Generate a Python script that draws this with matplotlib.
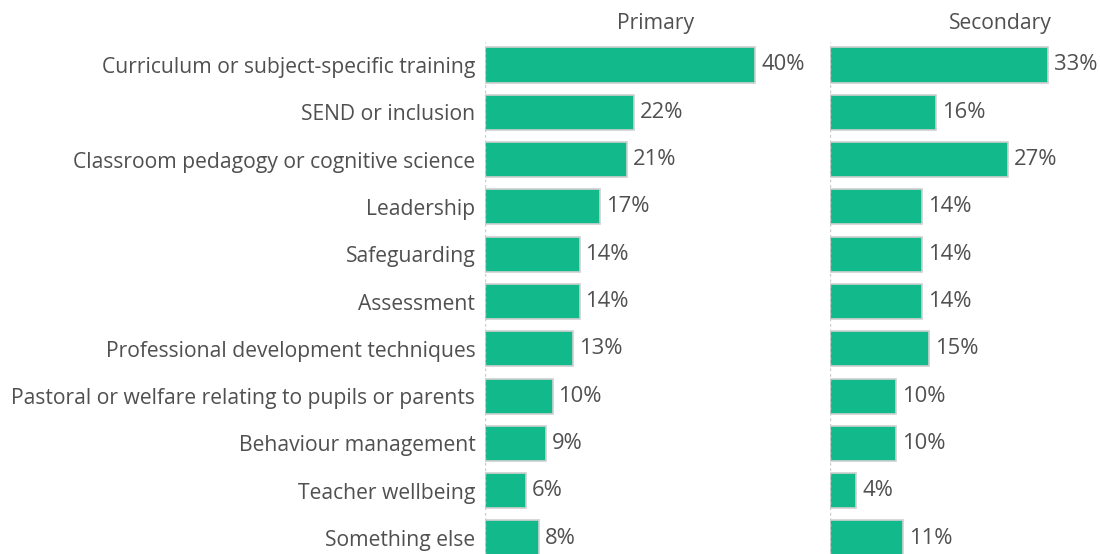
import numpy as np
import matplotlib.pyplot as plt

plt.rcParams['font.family'] = ['Open Sans', 'DejaVu Sans']

categories = ['Curriculum or subject-specific training', 'SEND or inclusion',
              'Classroom pedagogy or cognitive science', 'Leadership', 'Safeguarding',
              'Assessment', 'Professional development techniques',
              'Pastoral or welfare relating to pupils or parents', 'Behaviour management',
              'Teacher wellbeing', 'Something else']
primary = [40, 22, 21, 17, 14, 14, 13, 10, 9, 6, 8]
secondary = [33, 16, 27, 14, 14, 14, 15, 10, 10, 4, 11]

W, H = 1100, 554
fig = plt.figure(figsize=(W / 100, H / 100), dpi=100)

green = '#12B98A'
text_col = '#505050'
row_px = 47.3
top_px, first_px = 42, 65
y_top = (top_px - first_px) / row_px
y_bot = (H - first_px) / row_px
y = np.arange(len(categories))
fs = 15.2


def panel(left, width, scale, values, title, title_x):
    ax = fig.add_axes([left / W, 0, width / W, (H - top_px) / H])
    ax.barh(y, values, height=0.74, color=green, edgecolor='#d0d0d0', linewidth=1.2)
    ax.set_xlim(0, width / scale)
    ax.set_ylim(y_bot, y_top)
    ax.axvline(0, color='#cccccc', linestyle=(0, (2, 2)), linewidth=1)
    for yi, v in zip(y, values):
        ax.text(v + 6 / scale, yi, f'{v}%', va='center', ha='left',
                fontsize=15.8, color=text_col)
    for s in ax.spines.values():
        s.set_visible(False)
    ax.set_xticks([])
    ax.tick_params(axis='y', length=0, pad=7, labelsize=fs, labelcolor=text_col)
    fig.text(title_x / W, 1 - 23 / H, title, ha='center', va='center',
             fontsize=fs, color=text_col)
    return ax


ax1 = panel(485, 340, 6.75, primary, 'Primary', 656)
ax1.set_yticks(y)
ax1.set_yticklabels(categories)
ax2 = panel(830, 270, 6.6, secondary, 'Secondary', 1000)
ax2.set_yticks([])

fig.savefig('out.png', dpi=100)
